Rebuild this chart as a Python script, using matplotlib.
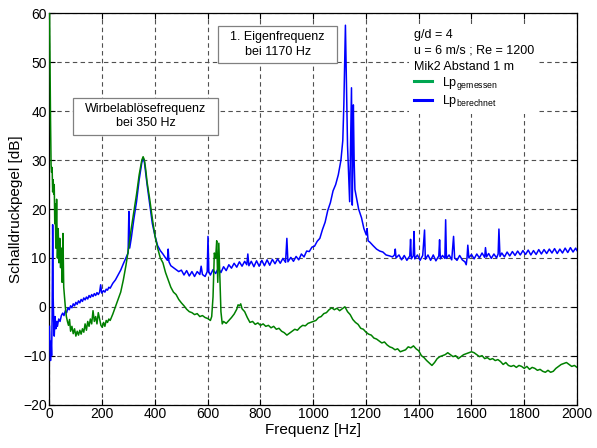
import matplotlib
matplotlib.use("Agg")
import matplotlib.pyplot as plt
from matplotlib.lines import Line2D
from matplotlib.patches import Rectangle

# --- DATA ---
# measured level (green)
f_gem = [0, 2, 4, 6, 8, 10, 12, 14, 16, 18, 20, 22, 24, 27, 30, 33, 36, 39, 42, 45,
         48, 51, 54, 57, 60, 64, 68, 72, 76, 80, 85, 90, 95, 100, 105, 110, 115, 120,
         125, 130, 135, 140, 145, 150, 155, 160, 165, 170, 175, 180, 185, 190, 195,
         200, 205, 210, 215, 220, 225, 230, 240, 250, 260, 270, 280, 290, 300, 310,
         320, 330, 340, 345, 350, 355, 360, 365, 370, 380, 390, 400, 410, 420, 430,
         440, 450, 460, 470, 480, 490, 500, 510, 520, 530, 540, 550, 560, 570, 580,
         590, 600, 610, 615, 620, 625, 630, 634, 638, 642, 646, 650, 655, 660, 670,
         680, 690, 700, 710, 715, 720, 725, 730, 740, 750, 760, 770, 780, 790, 800,
         810, 820, 830, 840, 850, 860, 870, 880, 890, 900, 910, 920, 930, 940, 950,
         960, 970, 980, 990, 1000, 1010, 1020, 1030, 1040, 1050, 1060, 1070, 1080,
         1090, 1100, 1110, 1120, 1130, 1140, 1150, 1160, 1170, 1180, 1190, 1200,
         1210, 1220, 1230, 1240, 1250, 1260, 1270, 1280, 1290, 1300, 1310, 1320,
         1330, 1340, 1350, 1360, 1370, 1380, 1390, 1400, 1410, 1420, 1430, 1440,
         1450, 1460, 1470, 1480, 1490, 1500, 1510, 1520, 1530, 1540, 1550, 1560,
         1570, 1580, 1590, 1600, 1610, 1620, 1630, 1640, 1650, 1660, 1670, 1680,
         1690, 1700, 1710, 1720, 1730, 1740, 1750, 1760, 1770, 1780, 1790, 1800,
         1810, 1820, 1830, 1840, 1850, 1860, 1870, 1880, 1890, 1900, 1910, 1920,
         1930, 1940, 1950, 1960, 1970, 1980, 1990, 2000]
lp_gem = [62, 50, 38, 29, 27.5, 28.5, 23.5, 26, 23, 25, 17, 21, 12, 22, 10, 16, 9, 14, 8, 12,
          5, 15, 4, 2, 0, -2, -3, -3.8, -2.6, -5, -4, -5.5, -4.5, -6, -5, -5.8, -4.8, -5.6,
          -4.5, -5.2, -3.5, -4.8, -3, -4, -2.5, -3.5, -0.8, -3, -2, -3.5, -1.2, -2.5, -3.8,
          -4.2, -3.2, -4, -2.8, -3.2, -2.5, -2.8, -1.5, 0, 1.5, 3, 5.5, 8.5, 12, 16,
          19.5, 23, 27, 28.5, 30, 30.7, 30, 28, 25.5, 22, 18, 14.5, 12, 10, 9,
          7, 5.5, 4, 3, 2.5, 1.5, 0.8, 0.2, -0.5, -1, -1.2, -1.6, -1.4, -2, -1.8,
          -2.2, -2.4, -2.8, -2, 2, 11, 10, 13.5, 5, 13, 6, -1, -3.5, -3, -3.4,
          -2.8, -2.2, -1.5, -0.5, 0.4, 0.2, 0.6, -0.4, -1, -2.2, -3.2, -3, -3.6, -3.3, -3.8,
          -3.5, -4, -3.8, -4.3, -4, -4.6, -4.4, -5, -5.3, -5.8, -5.4, -5, -4.6, -4.8, -4.2,
          -3.8, -3.9, -3.4, -3.2, -3, -2.8, -2.2, -2, -1.4, -1.2, -0.6, -0.2, -0.6,
          -0.3, -0.8, -0.4, 0, -1, -1.6, -2.6, -3.2, -3.6, -4.4, -4.6, -5.2,
          -5.6, -5.8, -6.4, -6.6, -7, -7.4, -7.2, -7.8, -8.2, -8.4, -8.8, -8.6,
          -9.2, -9, -8.8, -8.2, -8.4, -8, -8.6, -9, -10, -10.4, -11, -11.5,
          -12, -11.4, -10.6, -10.2, -10, -9.8, -9.4, -9.8, -10.2, -10, -10.6, -10.2,
          -9.8, -9.6, -9.4, -9.2, -9.4, -9.8, -10.2, -10, -10.6, -10.4, -10.8, -10.6,
          -11, -10.8, -11.2, -11.8, -11.4, -12, -12.2, -12, -12.4, -12, -12.2, -12.6,
          -12.2, -12.8, -12.4, -12.6, -13, -12.8, -13.2, -13.4, -13, -13.4, -13.2, -12.6,
          -12.2, -11.8, -11.6, -11.4, -11.8, -12.2, -12, -12.4]

# computed level (blue)
f_ber = [0, 2, 4, 6, 8, 10, 12, 14, 16, 18, 21, 24, 27, 30, 35, 40, 45, 50, 55, 60,
         65, 70, 75, 80, 85, 90, 95, 100, 105, 110, 115, 120, 125, 130, 135, 140,
         145, 150, 155, 160, 165, 170, 175, 180, 185, 190, 194, 198, 205, 210, 215,
         220, 225, 230, 240, 250, 260, 270, 280, 290, 298, 301, 304, 310, 320, 330,
         340, 350, 355, 360, 370, 380, 390, 400, 410, 420, 430, 440, 447, 450, 453,
         460, 470, 480, 490, 500, 510, 520, 530, 540, 550, 560, 570, 575, 580, 590,
         598, 601, 604, 610, 620, 630, 640, 650, 660, 670, 680, 690, 700, 710, 720,
         730, 740, 748, 752, 756, 765, 775, 785, 795, 805, 815, 825, 835, 845, 855,
         865, 875, 885, 895, 900, 904, 915, 925, 935, 945, 955, 965, 975, 985, 995,
         1005, 1015, 1025, 1035, 1045, 1055, 1065, 1075, 1085, 1095, 1105, 1112,
         1116, 1119, 1122, 1126, 1130, 1134, 1138, 1142, 1145, 1148, 1150, 1152,
         1155, 1158, 1164, 1172, 1183, 1192, 1201, 1204, 1208, 1215, 1227, 1240,
         1252, 1264, 1276, 1290, 1300, 1308, 1311, 1314, 1325, 1335, 1345, 1355,
         1366, 1369, 1372, 1379, 1382, 1385, 1395, 1405, 1415, 1422, 1425, 1435,
         1445, 1455, 1465, 1476, 1479, 1482, 1490, 1499, 1502, 1505, 1515, 1525,
         1532, 1536, 1545, 1555, 1565, 1575, 1580, 1583, 1586, 1590, 1600, 1610,
         1620, 1630, 1640, 1650, 1653, 1657, 1665, 1675, 1685, 1695, 1701, 1704,
         1708, 1715, 1725, 1735, 1745, 1755, 1765, 1775, 1785, 1795, 1805, 1815,
         1825, 1835, 1845, 1855, 1865, 1875, 1885, 1895, 1905, 1915, 1925, 1935,
         1945, 1955, 1965, 1975, 1985, 1995, 2000]
lp_ber = [-4, -9, -11, -7, -10, -2, 16.8, 2, -3, -6, -2, -4.5, -3, -4, -2.5, -3, -1.8, -1.3, -1.8, -0.8,
          -1.2, -0.2, -0.6, 0.2, -0.2, 0.6, 0.2, 0.9, 0.5, 1.2, 0.8, 1.5, 1.1, 1.8, 1.4, 2,
          1.6, 2.3, 1.9, 2.5, 2.1, 2.7, 2.3, 2.9, 2.5, 3, 4.5, 2.8, 3.3, 3.0, 3.6,
          3.4, 4, 3.8, 4.8, 5.5, 6.5, 7.5, 8.8, 10, 11, 19.5, 12, 14, 18, 21.5,
          26, 29.5, 30.5, 29.5, 25, 21, 17, 14.5, 12.5, 11.5, 10.8, 10, 9.5, 11.8, 9.2,
          8.4, 8, 7.6, 7.2, 7.5, 6.5, 7.4, 6.3, 7.2, 6.2, 7.2, 6.6, 8.3, 6.6, 6.2,
          7.2, 14.4, 7.2, 6.5, 7.6, 6.8, 7.9, 7.0, 8.2, 7.4, 8.6, 7.9, 8.9, 8.1, 9.2,
          8.3, 9.3, 8.6, 10.8, 8.4, 9.3, 8.2, 9.4, 8.3, 9.5, 8.4, 9.6, 8.5, 9.7, 8.8,
          9.8, 8.9, 9.9, 9.1, 14, 9.2, 10.1, 9.3, 10.3, 9.6, 10.8, 10.2, 11.4, 11.3, 12.2,
          12.4, 13.4, 14.0, 15.8, 17.3, 19.7, 21.3, 23.7, 25.0, 27.0, 30, 34,
          41.3, 50, 57.6, 45, 33, 27, 21.5, 35, 44.8, 20.8, 30, 41.3,
          30, 24, 22.3, 20, 18.2, 16, 14.7, 16, 13.5, 13.2, 12.5, 11.8,
          11.4, 11.2, 10.6, 10.4, 10.2, 10.6, 11.8, 10.0, 10.6, 9.6, 10.5, 9.5,
          10.4, 13.8, 9.8, 10.4, 15.4, 9.8, 10.6, 9.5, 10.5, 15.7, 9.7, 10.6,
          9.5, 10.6, 9.4, 10.4, 13.7, 9.8, 10.5, 9.9, 17.8, 9.9, 10.6, 9.6,
          14.4, 10.0, 9.5, 10.5, 9.6, 9.2, 8.6, 10, 12.6, 10.0, 10.7, 9.8,
          10.8, 10.0, 11.0, 10.1, 12.1, 10.2, 10.9, 9.9, 10.8, 10.0, 10.8, 15.9,
          10.3, 11.0, 10.2, 11.2, 10.4, 11.3, 10.5, 11.4, 10.6, 11.5, 10.7, 11.6,
          10.6, 11.5, 10.7, 11.7, 10.8, 11.7, 10.9, 11.8, 11.0, 11.9, 10.9, 11.8,
          11.0, 12.0, 11.1, 12.1, 11.2, 12.0, 11.5]

xticks = list(range(0, 2001, 200))
yticks = list(range(-20, 61, 10))
info = "g/d = 4\nu = 6 m/s ; Re = 1200\nMik2 Abstand 1 m"

plt.rcParams['font.family'] = ['Liberation Sans', 'DejaVu Sans']
plt.rcParams['mathtext.fontset'] = 'custom'
plt.rcParams['mathtext.rm'] = 'Liberation Sans'

fig = plt.figure(figsize=(5.97, 4.48), dpi=100)
ax = fig.add_axes([0.0829, 0.097, 0.8836, 0.8729])

ax.plot(f_ber, lp_ber, color='#0000ff', lw=1.1, zorder=3)
ax.plot(f_gem, lp_gem, color='#008000', lw=1.1, zorder=4)

ax.set_xlim(0, 2000)
ax.set_ylim(-20, 60)
ax.set_xticks(xticks)
ax.set_yticks(yticks)
ax.tick_params(direction='in', length=4, top=True, right=True, labelsize=10, pad=2)
ax.grid(True, color='#505050', linestyle=(0, (4, 3)), linewidth=0.8)
ax.set_axisbelow(True)
for s in ax.spines.values():
    s.set_linewidth(0.9)

ax.set_xlabel('Frequenz [Hz]', fontsize=11, labelpad=1)
ax.set_ylabel('Schalldruckpegel [dB]', fontsize=11, labelpad=0)

# annotation boxes
ax.add_patch(Rectangle((90, 35.2), 550, 7.6, facecolor='white', edgecolor='#808080', lw=0.9, zorder=5))
ax.text(365, 39, 'Wirbelablösefrequenz\nbei 350 Hz', ha='center', va='center', fontsize=9,
        linespacing=1.3, zorder=6)
ax.add_patch(Rectangle((640, 49.8), 450, 7.6, facecolor='white', edgecolor='#808080', lw=0.9, zorder=5))
ax.text(865, 53.6, '1. Eigenfrequenz\nbei 1170 Hz', ha='center', va='center', fontsize=9,
        linespacing=1.3, zorder=6)

handles = [Line2D([], [], color='#00a651', lw=2.2), Line2D([], [], color='#0000ff', lw=2.2)]
leg = ax.legend(handles, [r'Lp$_{\mathrm{gemessen}}$', r'Lp$_{\mathrm{berechnet}}$'],
                title=info, alignment='left', loc='upper left', bbox_to_anchor=(0.67, 0.99),
                fontsize=9, title_fontsize=9, frameon=True, fancybox=False,
                handlelength=1.4, handletextpad=0.8, labelspacing=0.15, borderpad=0.4)
leg.get_title().set_linespacing(1.45)
leg.get_frame().set_facecolor('white')
leg.get_frame().set_edgecolor('none')
leg.get_frame().set_alpha(1)
leg.set_zorder(7)

plt.savefig('out.png', dpi=100)
